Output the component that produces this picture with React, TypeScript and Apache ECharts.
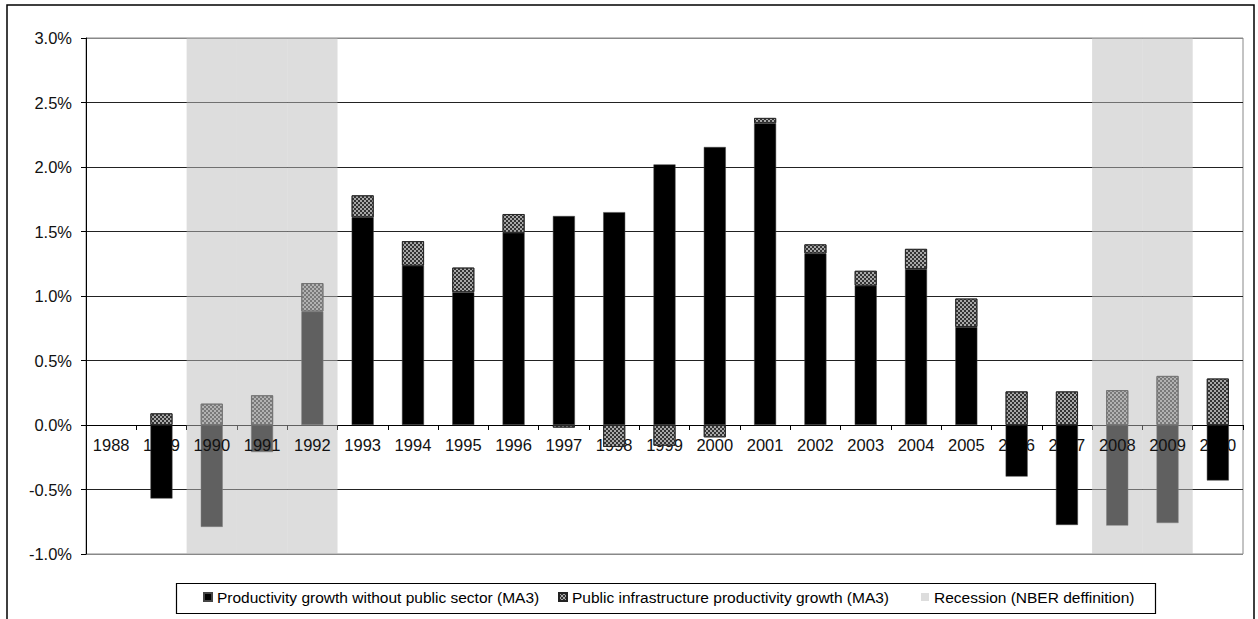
import React, { useEffect, useRef } from "react";
import * as echarts from "echarts";

const years = ["1988","1989","1990","1991","1992","1993","1994","1995","1996","1997","1998","1999","2000","2001","2002","2003","2004","2005","2006","2007","2008","2009","2010"];
const withoutPublic = [null, -0.57, -0.79, -0.21, 0.88, 1.61, 1.235, 1.03, 1.49, 1.62, 1.65, 2.02, 2.155, 2.34, 1.33, 1.08, 1.21, 0.76, -0.40, -0.775, -0.78, -0.76, -0.43];
const publicInfra = [null, 0.09, 0.165, 0.23, 0.22, 0.17, 0.19, 0.19, 0.145, -0.02, -0.17, -0.16, -0.095, 0.04, 0.07, 0.115, 0.155, 0.22, 0.26, 0.26, 0.27, 0.38, 0.36];
const recessionYears = ["1990", "1991", "1992", "2008", "2009"];
const recessionTop = 3.0;
const recessionBottom = -1.0;
const yTickLabels = ["-1.0%", "-0.5%", "0.0%", "0.5%", "1.0%", "1.5%", "2.0%", "2.5%", "3.0%"];

const NAME_A = "Productivity growth without public sector (MA3)";
const NAME_B = "Public infrastructure productivity growth (MA3)";
const NAME_R = "Recession (NBER deffinition)";
const FONT = "'Liberation Sans', Arial, sans-serif";
const OVERLAY = "rgba(188,188,188,0.51)";
const GRID_H = 516;
const ZERO_OFFSET = -(GRID_H / 4);

export default function App() {
  const ref = useRef<HTMLDivElement>(null);
  useEffect(() => {
    if (!ref.current) return;
    const chart = echarts.init(ref.current, undefined, { renderer: "svg" });
    const recUp = years.map((y) => (recessionYears.includes(y) ? recessionTop : null));
    const recDown = years.map((y) => (recessionYears.includes(y) ? recessionBottom : null));
    const legendText = { fontFamily: FONT, fontSize: 15.5, color: "#000" };
    chart.setOption({
      animation: false,
      backgroundColor: "#fff",
      grid: { left: 86, right: 15, top: 38, height: GRID_H, show: true, borderColor: "#888", borderWidth: 1, backgroundColor: "transparent" },
      legend: [
        { data: [NAME_A], left: 203, top: 589, padding: 0, itemWidth: 8, itemHeight: 8, itemGap: 0, textStyle: legendText, selectedMode: false, icon: "rect" },
        { data: [NAME_B], left: 558, top: 589, padding: 0, itemWidth: 8, itemHeight: 8, itemGap: 0, textStyle: legendText, selectedMode: false, icon: "rect" },
        { data: [NAME_R], left: 921, top: 589, padding: 0, itemWidth: 8, itemHeight: 8, itemGap: 0, textStyle: legendText, selectedMode: false, icon: "rect" },
      ],
      xAxis: [
        {
          type: "category",
          data: years,
          z: 0,
          position: "bottom",
          offset: ZERO_OFFSET,
          axisLine: { onZero: false, lineStyle: { color: "#000", width: 1 } },
          axisTick: { show: true, length: 5, lineStyle: { color: "#000" } },
          axisLabel: {
            margin: 11, fontFamily: FONT, fontSize: 16.5, color: "#111", interval: 0,
            formatter: (v: string) => (recessionYears.includes(v) ? "" : v),
          },
        },
        {
          type: "category",
          data: years,
          position: "bottom",
          offset: ZERO_OFFSET,
          z: 4,
          axisLine: { show: false, onZero: false },
          axisTick: { show: false },
          splitLine: { show: false },
          axisLabel: {
            margin: 11, fontFamily: FONT, fontSize: 16.5, color: "#111", interval: 0,
            formatter: (v: string) => (recessionYears.includes(v) ? v : ""),
          },
        },
      ],
      yAxis: {
        type: "value",
        min: -1,
        max: 3,
        interval: 0.5,
        z: 0,
        axisLine: { show: true, lineStyle: { color: "#000", width: 1 } },
        axisTick: { show: true, length: 5, lineStyle: { color: "#000" } },
        axisLabel: {
          margin: 14, fontFamily: FONT, fontSize: 16.5, color: "#111",
          formatter: (v: number) => yTickLabels[Math.round((v + 1) / 0.5)] ?? "",
        },
        splitLine: {
          show: true,
          lineStyle: { color: ["#888", "#222", "#222", "#222", "#222", "#222", "#222", "#222", "#888"], width: 1 },
        },
      },
      series: [
        {
          name: NAME_A, type: "bar", stack: "data", xAxisIndex: 0, barWidth: 22, z: 2,
          data: withoutPublic,
          itemStyle: { color: "#000", borderColor: "#444", borderWidth: 0.5 },
        },
        {
          name: NAME_B, type: "bar", stack: "data", xAxisIndex: 0, barWidth: 22, z: 2,
          data: publicInfra,
          itemStyle: {
            color: "#a8a8a8", borderColor: "#222", borderWidth: 0.8,
            decal: { symbol: "rect", symbolSize: 1, dashArrayX: [[2, 2], [0, 2, 2, 0]], dashArrayY: [2, 0], color: "#333" },
          },
        },
        {
          name: NAME_R, type: "bar", stack: "rec", xAxisIndex: 1, barWidth: "100%", z: 3,
          data: recUp, itemStyle: { color: OVERLAY },
        },
        {
          name: NAME_R, type: "bar", stack: "rec", xAxisIndex: 1, barWidth: "100%", z: 3,
          data: recDown, itemStyle: { color: OVERLAY },
        },
      ],
      graphic: [
        { type: "rect", silent: true, z: 10, shape: { x: 7, y: 5, width: 1247, height: 660 }, style: { fill: "none", stroke: "#000", lineWidth: 1.5 } },
        { type: "rect", silent: true, z: 10, shape: { x: 176.5, y: 583.5, width: 979, height: 30 }, style: { fill: "none", stroke: "#000", lineWidth: 1.2 } },
      ],
    });
    return () => chart.dispose();
  }, []);
  return <div ref={ref} style={{ position: "absolute", left: 0, top: 0, width: 1258, height: 619 }} />;
}
